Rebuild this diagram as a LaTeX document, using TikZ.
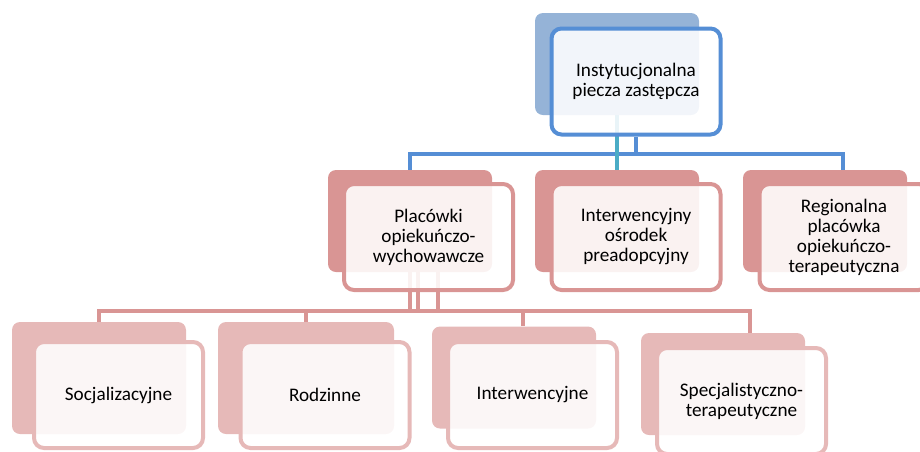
\documentclass[tikz,border=0pt]{standalone}
\usepackage{fontspec}
\setmainfont{Carlito}
\usetikzlibrary{backgrounds}

\newdimen\px \px=0.75pt

\definecolor{blueback}{HTML}{95B3D7}
\definecolor{blueedge}{HTML}{558ED5}
\definecolor{tealedge}{HTML}{4BACC6}
\definecolor{roseback}{HTML}{D99594}
\definecolor{paleback}{HTML}{E6B9B8}

\tikzset{
  backbox/.style={rounded corners=8\px, inner sep=0pt, minimum width=164\px, minimum height=102\px},
  frontbox/.style={draw, line width=4\px, rounded corners=10\px, fill=white, fill opacity=0.88, text opacity=1,
    inner sep=0pt, minimum width=169\px, minimum height=106\px, align=center, font=\fontsize{14.4}{15}\selectfont},
  blueline/.style={draw=blueedge, line width=4\px},
  tealline/.style={draw=tealedge, line width=4\px},
  roseline/.style={draw=roseback, line width=4\px}
}

\begin{document}
\begin{tikzpicture}[x=0.75pt,y=0.75pt,yscale=-1,xscale=1]
\useasboundingbox (0,0) rectangle (920,451);
\clip (0,0) rectangle (920,451);

% Back Boxes
\node (instB) [backbox, fill=blueback] at (617,64) {};
\node (placB) [backbox, fill=roseback] at (410,221) {};
\node (osrB) [backbox, fill=roseback] at (617,221) {};
\node (regB) [backbox, fill=roseback] at (825,221) {};
\node (socB) [backbox, fill=paleback, minimum width=174\px, minimum height=112\px] at (99,378) {};
\node (rodB) [backbox, fill=paleback, minimum width=176\px, minimum height=112\px] at (306,378) {};
\node (intB) [backbox, fill=paleback] at (514,377.5) {};
\node (specB) [backbox, fill=paleback] at (723,384) {};

% Front Boxes
\node (instF) [frontbox, draw=blueedge] at (636,81.5) {Instytucjonalna\\piecza zastępcza};
\node (placF) [frontbox, draw=roseback] at (428.5,237) {Placówki\\opiekuńczo-\\wychowawcze};
\node (osrF) [frontbox, draw=roseback] at (636,237) {Interwencyjny\\ośrodek\\preadopcyjny};
\node (regF) [frontbox, draw=roseback] at (844,237) {Regionalna\\placówka\\opiekuńczo-\\terapeutyczna};
\node (socF) [frontbox, draw=paleback] at (118.5,395) {Socjalizacyjne};
\node (rodF) [frontbox, draw=paleback] at (325,395) {Rodzinne};
\node (intF) [frontbox, draw=paleback] at (532.5,395) {Interwencyjne};
\node (specF) [frontbox, draw=paleback] at (741.5,401) {Specjalistyczno-\\terapeutyczne};

% Connectors
\begin{scope}[on background layer]
\coordinate (topbus) at (843,154);
\coordinate (botbus) at (750,311);
\draw[blueline] (instF.south) -- (instF.south |- topbus);
\draw[blueline] (placB.north) |- (topbus) -- (topbus |- regB.north);
\draw[tealline] (instB.south) -- (osrB.north);
\draw[roseline] (placB.south) -- (placB.south |- botbus);
\draw[roseline] ([xshift=8\px]placB.south) -- ([xshift=8\px]placB.south |- botbus);
\draw[roseline] ([xshift=28\px]placB.south) -- ([xshift=28\px]placB.south |- botbus);
\draw[roseline] (socB.north) |- (botbus) -- (botbus |- specB.north);
\draw[roseline] (rodB.north) -- (rodB.north |- botbus);
\draw[roseline] ([xshift=9\px]intB.north) -- ([xshift=9\px]intB.north |- botbus);
\end{scope}

\end{tikzpicture}
\end{document}
